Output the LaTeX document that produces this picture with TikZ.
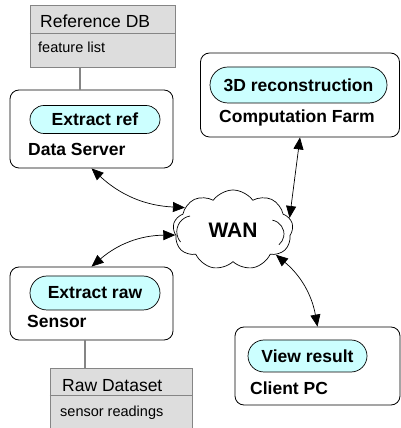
\documentclass[tikz,border=0pt]{standalone}
\usepackage{fontspec}
\setmainfont{Liberation Sans}
\usetikzlibrary{shapes.symbols,shapes.misc,arrows.meta}
\definecolor{dbfill}{HTML}{DDDDDD}
\definecolor{dbline}{HTML}{858585}
\definecolor{taskfill}{HTML}{CCFFFF}

\begin{document}
\begin{tikzpicture}[x=1pt, y=1pt,
  host/.style={draw, rounded corners=9pt, line width=0.8pt, inner sep=0pt},
  task/.style={draw, fill=taskfill, rounded rectangle, line width=0.7pt, inner sep=0pt, font=\bfseries\fontsize{17.5}{20}\selectfont},
  hostname/.style={anchor=base west, inner sep=0pt, font=\bfseries\fontsize{17.5}{20}\selectfont},
  store/.style={draw=dbline, fill=dbfill, line width=0.8pt, inner sep=0pt},
  storetitle/.style={anchor=base west, inner sep=0pt, font=\fontsize{17.5}{20}\selectfont},
  storeitem/.style={anchor=base west, inner sep=0pt, font=\fontsize{14.5}{17}\selectfont},
  tie/.style={draw=dbline, line width=1.1pt},
  link/.style={<->, >={Triangle[length=12pt,width=10pt]}, line width=0.7pt}]
\useasboundingbox (0,0) rectangle (401,428);

% reference data
\node (refdb) at (102.5,392) [store, minimum width=145pt, minimum height=62pt] {};
\draw[dbline, line width=0.8pt] ([yshift=3pt]refdb.west) -- ([yshift=3pt]refdb.east);
\node (refname) at (40,400) [storetitle] {Reference DB};
\node (refitems) at (38,375) [storeitem] {feature list};

% data server
\node (dserv) at (91.5,299) [host, minimum width=163pt, minimum height=78pt] {};
\node (extref) at (95,308.5) [task, minimum width=130pt, minimum height=28pt] {Extract ref};
\node (dservname) at (28,272) [hostname] {Data Server};
\draw[tie] ([xshift=-22.5pt]refdb.south) -- ([xshift=-11.5pt]dserv.north);

% computation farm
\node (farm) at (300,333) [host, minimum width=199pt, minimum height=84pt] {};
\node (recon) at (298.5,343) [task, minimum width=177pt, minimum height=36pt] {3D reconstruction};
\node (farmname) at (297,305) [hostname, anchor=base] {Computation Farm};

% network
\node (wan) at (233,198) [cloud, draw, cloud puffs=9, cloud puff arc=110, minimum width=120pt, minimum height=80pt, inner sep=0pt, line width=0.7pt, font=\bfseries\fontsize{21}{24}\selectfont] {WAN};
\draw[line width=0.7pt] (190,212) arc[start angle=100, end angle=220, radius=16];
\draw[line width=0.7pt] (272.4,207.8) arc[start angle=80, end angle=-50, radius=14];

% sensor
\node (sensor) at (91.5,124.5) [host, minimum width=163pt, minimum height=73pt] {};
\node (extraw) at (95,135) [task, minimum width=130pt, minimum height=34pt] {Extract raw};
\node (sensorname) at (27,100) [hostname] {Sensor};

% raw data
\node (rawdb) at (121,24) [store, minimum width=142pt, minimum height=72pt] {};
\draw[dbline, line width=0.8pt] ([yshift=9pt]rawdb.west) -- ([yshift=9pt]rawdb.east);
\node (rawname) at (62,36) [storetitle] {Raw Dataset};
\node (rawitems) at (60,11) [storeitem] {sensor readings};
\draw[tie] ([xshift=-6.5pt]sensor.south) -- ([xshift=-36pt]rawdb.north);

% client
\node (client) at (317.5,62) [host, minimum width=165pt, minimum height=78pt] {};
\node (viewres) at (307.5,72) [task, minimum width=119pt, minimum height=32pt] {View result};
\node (clientname) at (250,33) [hostname] {Client PC};

% links
\draw[link] (dserv.south) to[bend right=20] (wan.155);
\draw[link] (sensor.north) to[bend left=20] (wan.185);
\draw[link] (farm.south) -- (wan.12);
\draw[link] (wan.-30) to[bend left=20] (client.north);
\end{tikzpicture}
\end{document}
